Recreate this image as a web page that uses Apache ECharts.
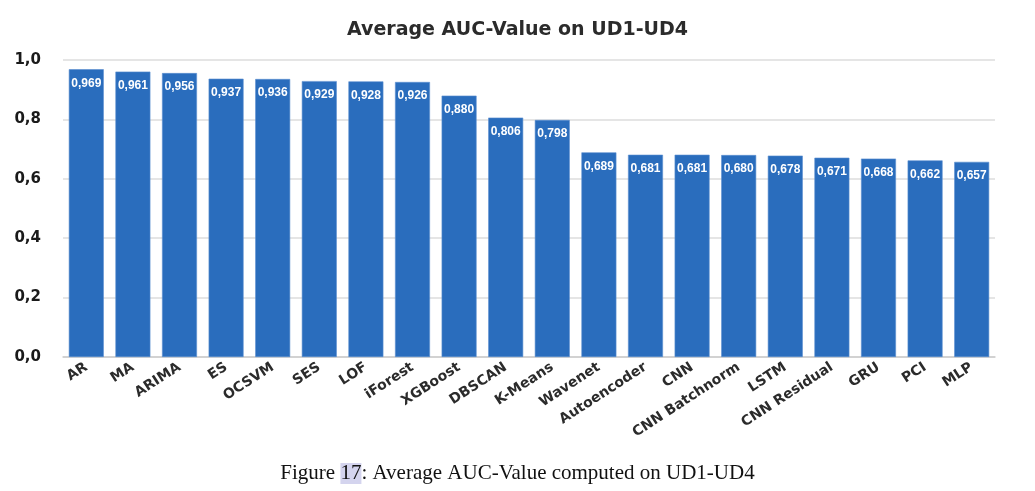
<!DOCTYPE html>
<html><head><meta charset="utf-8">
<script src="https://cdn.jsdelivr.net/npm/echarts@6/dist/echarts.min.js"></script>
<style>html,body{margin:0;padding:0;background:#fff}#c{width:1035px;height:491px}</style>
</head><body><div id="c"></div>
<script>
const categories = ["AR","MA","ARIMA","ES","OCSVM","SES","LOF","iForest","XGBoost","DBSCAN","K-Means","Wavenet","Autoencoder","CNN","CNN Batchnorm","LSTM","CNN Residual","GRU","PCI","MLP"];
const aucValues = [0.969,0.961,0.956,0.937,0.936,0.929,0.928,0.926,0.880,0.806,0.798,0.689,0.681,0.681,0.680,0.678,0.671,0.668,0.662,0.657];
const yTicks = [0,0.2,0.4,0.6,0.8,1.0];
const chartTitle = "Average AUC-Value on UD1-UD4";
const comma = (v, d) => v.toFixed(d).replace('.', ',');
const chart = echarts.init(document.getElementById('c'));
chart.setOption({
  animation: false,
  title: [{
    text: chartTitle, left: 'center', top: 16,
    textStyle: {fontFamily: 'DejaVu Sans', fontWeight: 'bold', fontSize: 19, color: '#2b2b2b'}
  }, {
    text: '{a|Figure }{h|17}{a|: Average AUC-Value computed on UD1-UD4}',
    left: 'center', top: 458,
    textStyle: {fontWeight: 'normal', rich: {
      a: {fontFamily: 'Liberation Serif', fontWeight: 'normal', fontSize: 21, color: '#111'},
      h: {fontFamily: 'Liberation Serif', fontWeight: 'normal', fontSize: 21, color: '#111', backgroundColor: '#d4d4ee'}
    }}
  }],
  grid: {left: 63, right: 40, top: 60, bottom: 134},
  xAxis: {
    type: 'category', data: categories,
    axisTick: {show: false},
    axisLine: {lineStyle: {color: '#ccc', width: 1.5}},
    axisLabel: {rotate: 33, interval: 0, fontFamily: 'DejaVu Sans', fontWeight: 'bold', fontSize: 14, color: '#2b2b2b', margin: 9}
  },
  yAxis: {
    type: 'value', min: 0, max: 1, interval: 0.2,
    axisLabel: {formatter: v => comma(v, 1), fontFamily: 'DejaVu Sans', fontWeight: 'bold', fontSize: 15, color: '#1a1a1a', margin: 22},
    splitLine: {lineStyle: {color: '#ddd', width: 1.5}}
  },
  series: [{
    type: 'bar', data: aucValues, barCategoryGap: '25%',
    itemStyle: {color: '#2a6dbd', borderColor: '#5b8fd0', borderWidth: 0.6},
    label: {show: true, position: 'insideTop', distance: 8, formatter: p => comma(p.value, 3),
      color: '#fff', fontFamily: 'Liberation Sans', fontWeight: 'bold', fontSize: 12}
  }]
});
</script></body></html>
